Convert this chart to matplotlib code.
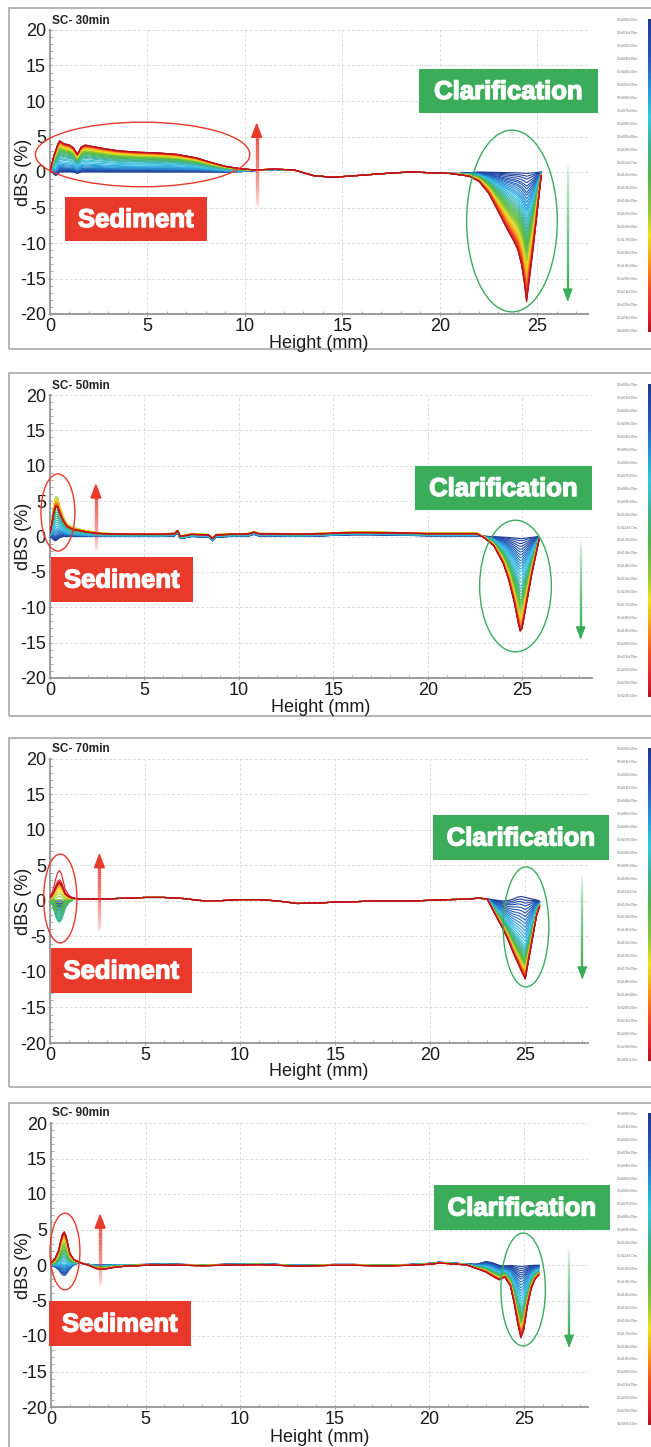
import numpy as np
import matplotlib
matplotlib.use('Agg')
import matplotlib.pyplot as plt
import matplotlib.patheffects as pe
from matplotlib.colors import LinearSegmentedColormap, to_rgb
from matplotlib.patches import Ellipse, Rectangle
from matplotlib.collections import LineCollection

plt.rcParams['font.family'] = ['Liberation Sans', 'DejaVu Sans']
plt.rcParams['axes.unicode_minus'] = False

# ---------------- DATA ----------------
panel_titles = ['SC- 30min', 'SC- 50min', 'SC- 70min', 'SC- 90min']
x_ticks = [0, 5, 10, 15, 20, 25]
y_ticks = [-20, -15, -10, -5, 0, 5, 10, 15, 20]
time_hours = ['00', '01', '02', '03', '04', '05', '06', '07', '08', '09', '10', '11',
              '12', '13', '14', '15', '16', '17', '18', '19', '20', '21', '22', '23']
last_time_labels = ['01d00h00m', '00d23h50m', '01d00h10m', '01d00h10m']

# Panel 1 (30 min)
p1_height = [0.0, 0.1, 0.2, 0.3, 0.4, 0.5, 0.7, 1.0, 1.2, 1.4, 1.6, 1.8,
             2.2, 2.8, 3.5, 4.5, 5.5, 6.5, 7.5, 8.2, 9.0, 9.8, 10.5, 11.5,
             12.5, 13.5, 14.5, 15.5, 16.5, 17.5, 18.5, 19.5, 20.5, 21.0, 21.5, 22.0,
             22.5, 23.0, 23.4, 23.8, 24.0, 24.2, 24.35, 24.45, 24.6, 24.8, 25.0, 25.2]
p1_base = [0, 0, -0.3, -0.5, -0.3, 0, 0, 0, 0, -0.2, 0, 0,
           0, 0, 0, 0, 0, 0, 0, 0, 0, 0.05, 0.2, 0.35,
           0.3, -0.5, -0.75, -0.55, -0.35, -0.15, 0.0, -0.1, -0.2, -0.2, -0.1, 0,
           0, 0, 0, 0, 0, 0, 0, 0, 0, 0, 0, 0]
p1_sed_shape = [0.0, 1.2, 2.6, 3.6, 4.2, 4.4, 4.0, 3.8, 3.4, 2.7, 3.5, 3.8,
                3.6, 3.3, 3.0, 2.8, 2.7, 2.5, 2.0, 1.4, 0.8, 0.4, 0.1, 0.05,
                0, 0, 0, 0, 0, 0, 0, 0, 0, 0, 0, 0,
                0, 0, 0, 0, 0, 0, 0, 0, 0, 0, 0, 0]
p1_dip_shape = [0, 0, 0, 0, 0, 0, 0, 0, 0, 0, 0, 0,
                0, 0, 0, 0, 0, 0, 0, 0, 0, 0, 0, 0,
                0, 0, 0, 0, 0, 0, 0, 0, 0, -0.2, -0.5, -1.3,
                -3.0, -5.6, -7.8, -9.8, -11.0, -13.2, -16.0, -18.3, -15.0, -10.5, -5.5, -0.5]
p1_sed_level = [0.0, 0.05, 0.1, 0.15, 0.2, 0.25, 0.3, 0.35, 0.4, 0.5, 0.6, 0.7,
                0.8, 0.95, 1.1, 1.2, 1.35, 1.45, 1.55, 1.65, 1.75, 1.85, 1.9, 1.95,
                2.0, 2.05, 2.1, 2.15, 2.2, 2.25, 2.3, 2.35, 2.4, 2.45, 2.5, 2.52,
                2.55, 2.58, 2.6, 2.62, 2.64, 2.66, 2.68, 2.69, 2.7]
p1_dip_level = [0.2, 0.6, 1.0, 1.5, 2.0, 2.4, 2.9, 3.3, 3.8, 4.3, 4.8, 5.2,
                5.6, 6.1, 6.6, 7.0, 7.5, 8.0, 8.5, 9.0, 9.5, 10.0, 10.5, 11.0,
                11.4, 11.8, 12.2, 12.6, 13.0, 13.4, 13.8, 14.2, 14.6, 15.0, 15.4, 15.8,
                16.2, 16.5, 16.8, 17.1, 17.4, 17.7, 17.9, 18.1, 18.3]

# Panel 2 (50 min)
p2_height = [0.0, 0.1, 0.2, 0.3, 0.4, 0.5, 0.7, 0.9, 1.2, 1.6, 2.0, 2.5,
             3.0, 4.0, 5.0, 6.0, 6.6, 6.75, 6.9, 7.5, 8.4, 8.6, 8.8, 9.5,
             10.5, 10.8, 11.1, 12.0, 13.0, 14.0, 15.0, 16.0, 17.0, 18.0, 19.0, 20.0,
             21.0, 22.0, 22.6, 23.0, 23.5, 24.0, 24.3, 24.6, 24.8, 24.9, 25.0, 25.2,
             25.5, 25.9]
p2_base = [0, -0.2, -0.5, -0.6, -0.4, -0.2, 0, 0, 0, 0, 0, 0,
           0, 0, 0, 0, 0.1, 0.5, -0.3, 0, -0.1, -0.6, -0.1, 0,
           0.05, 0.3, 0.05, 0.05, 0, 0.05, 0.15, 0.25, 0.25, 0.2, 0.15, 0.1,
           0.1, 0.1, 0.1, 0.05, 0, 0, 0, 0, 0, 0, 0, 0,
           0, 0]
p2_sed_shape = [0.5, 2.0, 3.8, 4.8, 4.6, 3.6, 2.2, 1.4, 1.0, 0.8, 0.6, 0.45,
                0.35, 0.3, 0.3, 0.3, 0.3, 0.3, 0.3, 0.3, 0.3, 0.3, 0.3, 0.3,
                0.3, 0.3, 0.3, 0.3, 0.3, 0.3, 0.3, 0.3, 0.3, 0.3, 0.3, 0.3,
                0.3, 0.3, 0.3, 0.15, 0, 0, 0, 0, 0, 0, 0, 0,
                0, 0]
p2_dip_shape = [0, 0, 0, 0, 0, 0, 0, 0, 0, 0, 0, 0,
                0, 0, 0, 0, 0, 0, 0, 0, 0, 0, 0, 0,
                0, 0, 0, 0, 0, 0, 0, 0, 0, 0, 0, 0,
                0, 0, 0, -0.4, -1.3, -3.8, -6.2, -9.5, -12.3, -13.4, -13.0, -10.0,
                -5.5, -0.4]
p2_sed_level = [0.0, 0.1, 0.2, 0.3, 0.4, 0.5, 0.6, 0.8, 1.0, 1.2, 1.4, 1.6,
                1.9, 2.2, 2.5, 2.8, 3.1, 3.4, 3.7, 4.0, 4.3, 4.6, 4.9, 5.2,
                5.5, 5.8, 6.0, 6.2, 6.1, 6.0, 5.9, 5.8, 5.6, 5.5, 5.4, 5.3,
                5.2, 5.1, 5.0, 5.0, 4.9, 4.9, 4.8, 4.8, 4.8]
p2_dip_level = [0.3, 0.6, 1.0, 1.4, 1.8, 2.2, 2.6, 3.0, 3.4, 3.8, 4.2, 4.6,
                5.0, 5.5, 6.0, 6.5, 7.0, 7.4, 7.8, 8.2, 8.6, 9.0, 9.3, 9.6,
                9.9, 10.2, 10.5, 10.8, 11.0, 11.2, 11.4, 11.6, 11.8, 12.0, 12.2, 12.4,
                12.6, 12.75, 12.9, 13.0, 13.1, 13.2, 13.3, 13.35, 13.4]

# Panel 3 (70 min)
p3_height = [0.0, 0.1, 0.2, 0.3, 0.4, 0.5, 0.6, 0.7, 0.8, 1.0, 1.2, 1.5,
             2.0, 3.0, 4.0, 5.0, 6.0, 7.0, 8.0, 9.0, 10.0, 11.0, 12.0, 13.0,
             14.0, 15.0, 16.0, 17.0, 18.0, 19.0, 20.0, 21.0, 22.0, 22.5, 23.0, 23.4,
             23.8, 24.1, 24.4, 24.6, 24.8, 25.0, 25.2, 25.4, 25.6, 25.75]
p3_base = [0.2, 0.2, 0.1, 0, 0, 0, 0, 0, 0.1, 0.2, 0.3, 0.3,
           0.3, 0.3, 0.4, 0.5, 0.5, 0.35, 0.05, 0.05, 0.2, 0.2, 0.0, -0.35,
           -0.3, -0.15, -0.1, 0, 0, 0, 0.1, 0.2, 0.25, 0.4, 0.3, 0.2,
           0.1, 0.2, 0.5, 0.8, 0.9, 0.8, 0.6, 0.4, 0.2, 0.0]
p3_sed_shape = [0.3, 0.6, 1.2, 2.0, 2.6, 2.8, 2.5, 1.8, 1.0, 0.4, 0.1, 0,
                0, 0, 0, 0, 0, 0, 0, 0, 0, 0, 0, 0,
                0, 0, 0, 0, 0, 0, 0, 0, 0, 0, 0, 0,
                0, 0, 0, 0, 0, 0, 0, 0, 0, 0]
p3_dip_shape = [0, 0, 0, 0, 0, 0, 0, 0, 0, 0, 0, 0,
                0, 0, 0, 0, 0, 0, 0, 0, 0, 0, 0, 0,
                0, 0, 0, 0, 0, 0, 0, 0, 0, 0, 0, -2.0,
                -3.9, -5.7, -8.0, -9.5, -10.8, -11.8, -8.6, -5.4, -2.2, -0.8]
p3_sed_level = [0.0, -0.2, -0.4, -0.5, -0.6, -0.7, -0.8, -1.0, -1.2, -1.4, -1.6, -1.8,
                -2.0, -2.2, -2.4, -2.6, -2.8, -3.0, -2.8, -2.5, -2.2, -1.8, -1.4, -1.0,
                -0.6, -0.2, 0.2, 0.6, 1.0, 1.3, 1.6, 1.8, 2.0, 2.1, 2.2, 2.3,
                2.4, 2.5, 2.6, 2.7, 2.8, 3.0, 4.3, 2.6, 2.5]
p3_dip_level = [0.3, 0.7, 1.1, 1.5, 2.0, 2.5, 3.0, 3.5, 4.0, 4.5, 5.0, 5.5,
                6.0, 6.5, 7.0, 7.4, 7.7, 8.0, 8.3, 8.6, 8.9, 9.1, 9.3, 9.5,
                9.7, 9.9, 10.0, 10.1, 10.3, 10.4, 10.6, 10.7, 10.8, 10.9, 11.0, 11.1,
                11.2, 11.3, 11.4, 11.5, 11.6, 11.65, 11.7, 11.75, 11.8]

# Panel 4 (90 min)
p4_height = [0.0, 0.2, 0.4, 0.5, 0.6, 0.7, 0.8, 0.9, 1.0, 1.2, 1.4, 1.7,
             2.0, 2.4, 2.8, 3.3, 4.0, 5.0, 6.0, 7.0, 8.0, 9.0, 10.0, 11.0,
             12.0, 13.0, 14.0, 15.0, 16.0, 17.0, 18.0, 19.0, 20.0, 20.5, 21.0, 21.5,
             22.0, 22.5, 23.0, 23.3, 23.7, 24.0, 24.3, 24.5, 24.7, 24.85, 25.0, 25.2,
             25.4, 25.6, 25.8]
p4_base = [0, 0, 0, 0, 0, 0, 0, 0, 0, 0.2, 0.3, 0.2,
           0.05, -0.1, -0.1, -0.05, 0, 0.05, 0.1, 0.05, 0, 0.05, 0.1, 0.15,
           0.05, -0.05, 0, 0.05, 0.05, 0, 0, 0.05, 0.2, 0.35, 0.3, 0.2,
           0.1, 0.1, 0.5, 0.4, 0.0, -0.1, 0, 0, 0, 0, 0, 0,
           0, 0, 0]
p4_sed_shape = [0.3, 0.8, 2.0, 3.2, 4.2, 4.6, 4.0, 2.8, 1.6, 0.6, 0.2, 0.0,
                -0.1, -0.4, -0.5, -0.3, -0.15, -0.1, -0.1, -0.1, -0.1, -0.1, -0.1, -0.1,
                -0.1, -0.1, -0.1, -0.1, -0.1, -0.1, -0.1, -0.1, -0.1, -0.1, -0.1, -0.1,
                -0.1, -0.1, 0, 0, 0, 0, 0, 0, 0, 0, 0, 0,
                0, 0, 0]
p4_dip_shape = [0, 0, 0, 0, 0, 0, 0, 0, 0, 0, 0, 0,
                0, 0, 0, 0, 0, 0, 0, 0, 0, 0, 0, 0,
                0, 0, 0, 0, 0, 0, 0, 0, 0, 0, 0, 0,
                0, -0.5, -1.5, -1.9, -2.1, -1.6, -3.0, -5.5, -8.5, -10.3, -9.2, -5.8,
                -3.3, -2.0, -1.4]
p4_sed_level = [-0.3, -0.6, -0.9, -1.2, -1.5, -1.3, -1.1, -0.9, -0.7, -0.5, -0.3, -0.1,
                0.1, 0.3, 0.5, 0.7, 0.9, 1.1, 1.3, 1.5, 1.7, 1.9, 2.1, 2.3,
                2.5, 2.7, 2.9, 3.1, 3.3, 3.5, 3.7, 3.8, 3.9, 4.0, 4.1, 4.2,
                4.3, 4.4, 4.5, 4.6, 4.5, 4.4, 4.6, 4.7, 4.6]
p4_dip_level = [0.2, 0.5, 0.8, 1.1, 1.4, 1.7, 2.0, 2.4, 2.8, 3.2, 3.6, 4.0,
                4.4, 4.8, 5.2, 5.6, 6.0, 6.3, 6.6, 6.9, 7.2, 7.5, 7.7, 7.9,
                8.1, 8.3, 8.5, 8.6, 8.7, 8.8, 8.9, 9.0, 9.1, 9.2, 9.3, 9.4,
                9.5, 9.6, 9.7, 9.8, 9.9, 10.0, 10.1, 10.2, 10.3]

# reference height at which each sediment level was read
sed_ref_height = [5.5, 0.3, 0.5, 0.7]

# ---------------- LAYOUT ----------------
W, H = 651, 1447
fig = plt.figure(figsize=(W / 100, H / 100), dpi=100)


def fx(x):
    return x / W


def fy(y):
    return 1 - y / H


cmap = LinearSegmentedColormap.from_list('turb', [
    (0.00, '#1d3a94'), (0.12, '#2356b4'), (0.24, '#2a9fdc'), (0.31, '#3cc3e8'),
    (0.40, '#3fb39a'), (0.50, '#4cb847'), (0.61, '#8cc63f'), (0.69, '#f0e21c'),
    (0.77, '#f7a21b'), (0.87, '#ee4a23'), (0.95, '#e0202a'), (1.00, '#b3141f')])

RED = '#e8392b'
GREEN = '#3aac5a'

layouts = [
    dict(ax=(50, 30, 588, 314), xmax=27.6, title_y=21, box=(9, 8, 670, 349),
         cbar=(648, 19, 670, 332), sed=(65, 197, 207, 241), clar=(419, 69, 598, 113),
         red_ell=(4.75, 2.47, 11.0, 9.1), green_ell=(23.7, -6.9, 4.65, 25.6),
         red_arr=(10.6, -5.1, 7.0), green_arr=(26.56, 1.3, -18.3), xlab_y=343),
    dict(ax=(50, 395, 592, 678), xmax=28.7, title_y=386, box=(9, 373, 670, 716),
         cbar=(648, 384, 670, 697), sed=(51, 557, 193, 602), clar=(415, 466, 592, 510),
         red_ell=(0.42, 3.39, 1.8, 10.9), green_ell=(24.65, -7.0, 3.8, 18.6),
         red_arr=(2.43, -2.2, 7.56), green_arr=(28.1, -0.5, -14.6), xlab_y=707),
    dict(ax=(50, 759, 588, 1043), xmax=28.3, title_y=749, box=(9, 738, 670, 1087),
         cbar=(648, 748, 670, 1061), sed=(51, 948, 192, 993), clar=(433, 815, 609, 860),
         red_ell=(0.54, 0.35, 1.75, 12.5), green_ell=(25.04, -3.65, 2.4, 16.9),
         red_arr=(2.6, -4.4, 6.8), green_arr=(28.0, 3.9, -11.1), xlab_y=1072),
    dict(ax=(51, 1123, 588, 1407), xmax=28.4, title_y=1113, box=(9, 1103, 670, 1470),
         cbar=(648, 1113, 670, 1425), sed=(49, 1301, 191, 1346), clar=(434, 1185, 610, 1230),
         red_ell=(0.74, 1.9, 1.58, 10.8), green_ell=(24.97, -3.45, 2.35, 15.9),
         red_arr=(2.6, -3.2, 7.3), green_arr=(27.4, 2.5, -11.7), xlab_y=1437),
]

panels = [
    (p1_height, p1_base, p1_sed_shape, p1_dip_shape, p1_sed_level, p1_dip_level),
    (p2_height, p2_base, p2_sed_shape, p2_dip_shape, p2_sed_level, p2_dip_level),
    (p3_height, p3_base, p3_sed_shape, p3_dip_shape, p3_sed_level, p3_dip_level),
    (p4_height, p4_base, p4_sed_shape, p4_dip_shape, p4_sed_level, p4_dip_level),
]


def grad_arrow(ax, x, y_tail, y_head, color, lw, px_per_unit, head_scale):
    sign = 1 if y_head > y_tail else -1
    head_len = 9.0 / px_per_unit
    y_end = y_head - sign * head_len * 0.6
    ys = np.linspace(y_tail, y_end, 41)
    segs = [[(x, ys[k]), (x, ys[k + 1])] for k in range(40)]
    rgb = to_rgb(color)
    alphas = np.linspace(0.0, 1.0, 40) ** 0.6
    cols = [(rgb[0], rgb[1], rgb[2], a) for a in alphas]
    lc = LineCollection(segs, colors=cols, linewidths=lw, capstyle='butt', clip_on=False, zorder=6)
    ax.add_collection(lc)
    ax.annotate('', xy=(x, y_head), xytext=(x, y_head - sign * head_len),
                arrowprops=dict(arrowstyle='-|>,head_length=0.9,head_width=0.34',
                                mutation_scale=head_scale, color=color, lw=lw * 0.5,
                                shrinkA=0, shrinkB=0),
                annotation_clip=False, zorder=7)


for i, (lay, pdata) in enumerate(zip(layouts, panels)):
    hgt, base, sshape, dshape, slev, dlev = [np.asarray(a, dtype=float) for a in pdata]
    l, t, r, b = lay['ax']

    # frame box
    bx0, by0, bx1, by1 = lay['box']
    fig.add_artist(Rectangle((fx(bx0), fy(by1)), fx(bx1 - bx0), (by1 - by0) / H,
                             transform=fig.transFigure, fill=False,
                             edgecolor='#b4b4b4', lw=1.4, zorder=0))

    ax = fig.add_axes([fx(l), fy(b), (r - l) / W, (b - t) / H])
    ax.set_xlim(0, lay['xmax'])
    ax.set_ylim(-20, 20)
    px_per_unit = (b - t) / 40.0

    # curves
    sref = sshape[list(hgt).index(sed_ref_height[i])]
    dref = abs(dshape.min())
    n = len(slev)
    for k in range(n):
        y = base + (slev[k] / sref) * sshape + (dlev[k] / dref) * dshape
        ax.plot(hgt, y, color=cmap(k / (n - 1)), lw=0.8, zorder=3 + k / n)

    # axes styling
    for s in ['top', 'right']:
        ax.spines[s].set_visible(False)
    for s in ['left', 'bottom']:
        ax.spines[s].set_color('#9c9c9c')
        ax.spines[s].set_linewidth(1.4)
    ax.set_xticks(x_ticks)
    ax.set_yticks(y_ticks)
    ax.set_xticks(np.arange(0, lay['xmax'] + 0.01, 1), minor=True)
    ax.set_yticks(np.arange(-20, 21, 1), minor=True)
    ax.tick_params(which='major', length=3, width=0.8, color='#9c9c9c', direction='inout',
                   labelsize=13, pad=1.5, labelcolor='#1a1a1a')
    ax.tick_params(which='minor', length=2, width=0.6, color='#9c9c9c', direction='in')
    ax.grid(True, which='major', color='#dcdcdc', linestyle=(0, (3, 2)), lw=0.7, zorder=0)
    ax.set_axisbelow(True)

    ax.set_ylabel('dBS (%)', fontsize=13, color='#1a1a1a')
    ax.yaxis.set_label_coords(-(l - 32) / (r - l), 0.5)
    ax.set_xlabel('Height (mm)', fontsize=13, color='#1a1a1a', va='center')
    ax.xaxis.set_label_coords(0.5, -(lay['xlab_y'] - b) / (b - t))

    # title
    fig.text(fx(52), fy(lay['title_y']), panel_titles[i], fontsize=8.5, fontweight='bold',
             va='center', ha='left', color='#222222')

    # ellipses
    cx, cy, ew, eh = lay['red_ell']
    ax.add_patch(Ellipse((cx, cy), ew, eh, fill=False, edgecolor=RED, lw=1.0,
                         clip_on=False, zorder=8))
    cx, cy, ew, eh = lay['green_ell']
    ax.add_patch(Ellipse((cx, cy), ew, eh, fill=False, edgecolor=GREEN, lw=1.0,
                         clip_on=False, zorder=8))

    # arrows
    ax_x, yt, yh = lay['red_arr']
    grad_arrow(ax, ax_x, yt, yh, RED, 2.4, px_per_unit, 10)
    ax_x, yt, yh = lay['green_arr']
    grad_arrow(ax, ax_x, yt, yh, GREEN, 1.7, px_per_unit, 9)

    # label boxes
    for (x0, y0, x1, y1), txt, col in [(lay['sed'], 'Sediment', RED),
                                        (lay['clar'], 'Clarification', GREEN)]:
        fig.add_artist(Rectangle((fx(x0), fy(y1)), (x1 - x0) / W, (y1 - y0) / H,
                                 transform=fig.transFigure, facecolor=col,
                                 edgecolor='none', zorder=10))
        fig.text(fx((x0 + x1) / 2), fy((y0 + y1) / 2 + 1), txt, color='white',
                 fontsize=18.5, fontweight='bold', ha='center', va='center', zorder=11,
                 path_effects=[pe.withStroke(linewidth=1.0, foreground='white')])

    # colorbar strip
    cx0, cy0, cx1, cy1 = lay['cbar']
    cax = fig.add_axes([fx(cx0), fy(cy1), (cx1 - cx0) / W, (cy1 - cy0) / H])
    grad = np.linspace(0, 1, 256).reshape(-1, 1)
    cax.imshow(grad, aspect='auto', cmap=cmap, extent=(0, 1, 1, 0))
    cax.set_axis_off()
    labels = ['00d' + hh + 'h00m' for hh in time_hours] + [last_time_labels[i]]
    nl = len(labels)
    for j, lab in enumerate(labels):
        yy = cy0 + 1 + j * (cy1 - cy0 - 2) / (nl - 1)
        fig.text(fx(617), fy(yy), lab, fontsize=3.0, color='#808080', ha='left', va='center')

fig.savefig('out.png', dpi=100)
